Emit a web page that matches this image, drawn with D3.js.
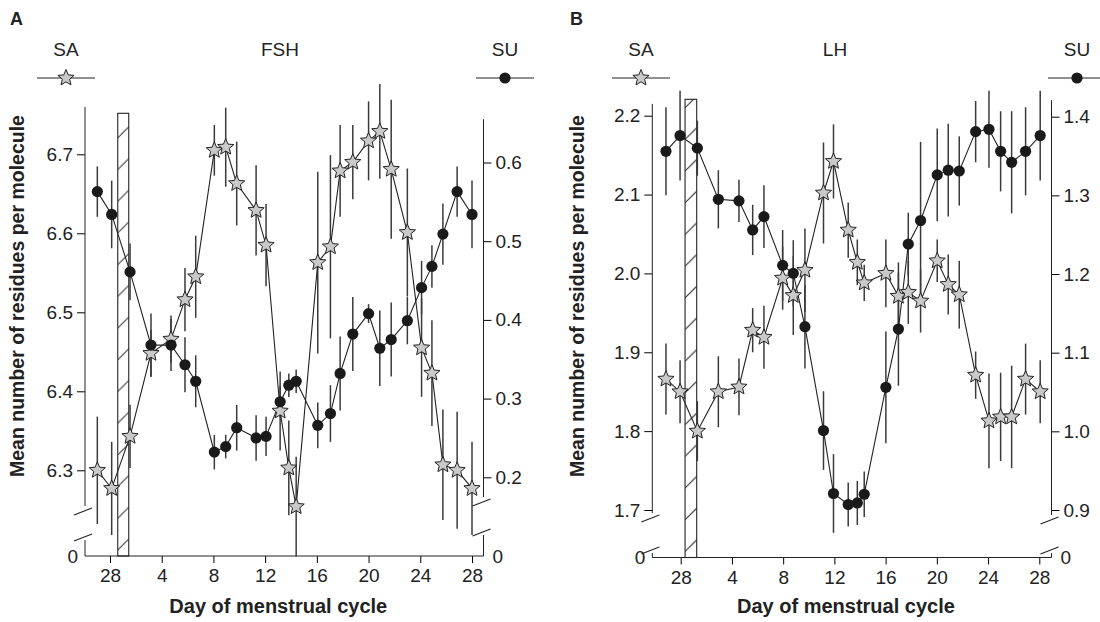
<!DOCTYPE html>
<html>
<head>
<script src="https://d3js.org/d3.v7.min.js"></script>
<style>
  body { margin: 0; background: #fff; }
  svg text { font-family: "Liberation Sans", Arial, sans-serif; fill: #222; }
</style>
</head>
<body>
<div id="chart"></div>
<script>
// ---- Panel A : FSH ----
// day position (0 = day 28 of the previous cycle)
const daysA = [-0.98, 0.13, 1.55, 3.17, 4.72, 5.8, 6.63, 8.07, 8.95, 9.8, 11.3, 12.07, 13.16, 13.83,
  14.4, 16.07, 17.05, 17.8, 18.78, 20.0, 20.87, 21.75, 23.0, 24.1, 24.9, 25.75, 26.85, 28.0];
const fshSA = [6.300, 6.277, 6.343, 6.448, 6.466, 6.516, 6.545, 6.705, 6.709, 6.663, 6.629, 6.585, 6.375, 6.303,
  6.254, 6.563, 6.583, 6.679, 6.690, 6.717, 6.729, 6.681, 6.601, 6.455, 6.423, 6.307, 6.300, 6.277];
const fshSAerr = [0.068, 0.059, 0.040, 0.030, 0.030, 0.040, 0.052, 0.032, 0.050, 0.053, 0.057, 0.052, 0.050, 0.060,
  0.063, 0.115, 0.116, 0.058, 0.047, 0.050, 0.060, 0.088, 0.081, 0.062, 0.067, 0.070, 0.074, 0.059];
const fshSU = [0.563, 0.534, 0.461, 0.368, 0.368, 0.343, 0.322, 0.232, 0.239, 0.263, 0.250, 0.252, 0.296, 0.317,
  0.322, 0.266, 0.281, 0.332, 0.382, 0.408, 0.364, 0.375, 0.399, 0.441, 0.468, 0.509, 0.563, 0.534];
const fshSUerr = [0.032, 0.043, 0.036, 0.040, 0.033, 0.035, 0.033, 0.022, 0.015, 0.029, 0.029, 0.025, 0.020, 0.015,
  0.015, 0.029, 0.036, 0.047, 0.047, 0.012, 0.048, 0.047, 0.030, 0.034, 0.027, 0.039, 0.032, 0.043];

// ---- Panel B : LH ----
const daysB = [-1.15, -0.05, 1.3, 2.94, 4.55, 5.62, 6.5, 7.96, 8.79, 9.7, 11.15, 11.93, 13.08, 13.79,
  14.33, 16.02, 17.0, 17.77, 18.73, 20.03, 20.89, 21.75, 23.03, 24.07, 24.98, 25.84, 26.93, 28.07];
const lhSA = [1.866, 1.850, 1.800, 1.850, 1.856, 1.928, 1.919, 1.994, 1.972, 2.004, 2.102, 2.142, 2.055, 2.014,
  1.988, 2.000, 1.971, 1.976, 1.965, 2.016, 1.986, 1.973, 1.871, 1.813, 1.818, 1.818, 1.866, 1.850];
const lhSAerr = [0.045, 0.040, 0.038, 0.045, 0.036, 0.028, 0.040, 0.040, 0.050, 0.053, 0.064, 0.047, 0.035, 0.029,
  0.023, 0.043, 0.043, 0.040, 0.040, 0.027, 0.038, 0.043, 0.030, 0.060, 0.056, 0.065, 0.045, 0.040];
const lhSU = [1.356, 1.376, 1.360, 1.295, 1.293, 1.256, 1.273, 1.211, 1.201, 1.133, 1.001, 0.921, 0.907, 0.909,
  0.920, 1.056, 1.130, 1.238, 1.268, 1.326, 1.332, 1.331, 1.381, 1.384, 1.356, 1.342, 1.356, 1.376];
const lhSUerr = [0.056, 0.057, 0.035, 0.037, 0.027, 0.032, 0.040, 0.045, 0.042, 0.053, 0.050, 0.050, 0.028, 0.028,
  0.029, 0.071, 0.072, 0.040, 0.100, 0.059, 0.059, 0.044, 0.039, 0.049, 0.051, 0.065, 0.056, 0.057];

const dayTicks = [0, 4, 8, 12, 16, 20, 24, 28];

const svg = d3.select("#chart").append("svg").attr("width", 1100).attr("height", 622);

// 5 point star, chunky inner radius
function starPath(R) {
  const r = R * 0.45;
  const pts = d3.range(10).map(i => {
    const a = -Math.PI / 2 + i * Math.PI / 5;
    const rr = i % 2 ? r : R;
    return [rr * Math.cos(a), rr * Math.sin(a)];
  });
  return "M" + pts.join("L") + "Z";
}

function drawPanel(p) {
  const g = svg.append("g");
  const x = d3.scaleLinear().domain([0, 28]).range(p.xRange);
  const yL = d3.scaleLinear().domain(p.yLDom).range(p.yLRange);
  const yR = d3.scaleLinear().domain(p.yRDom).range(p.yRRange);
  const xl = p.axisLeftX, xr = p.axisRightX, base = p.base;

  // hatched bar (menstruation)
  const bw = x(p.bar[1]) - x(p.bar[0]);
  const pat = svg.append("defs").append("pattern")
    .attr("id", "hatch" + p.id).attr("patternUnits", "userSpaceOnUse")
    .attr("x", x(p.bar[0])).attr("y", base).attr("width", bw).attr("height", 31.7);
  pat.append("path").attr("d", `M0,${31.7 - 6} L${bw},${31.7 - 6 - bw}`)
    .attr("stroke", "#222").attr("stroke-width", 1);
  g.append("rect")
    .attr("x", x(p.bar[0])).attr("y", p.barTop)
    .attr("width", bw).attr("height", base - p.barTop)
    .attr("fill", `url(#hatch${p.id})`).attr("stroke", "#222").attr("stroke-width", 1.1);

  // x axis
  const xa = g.append("g").attr("transform", `translate(0,${base})`);
  xa.call(d3.axisBottom(x).tickValues(d3.range(-1, 29)).tickSize(4).tickFormat(""))
  xa.call(d3.axisBottom(x).tickValues(dayTicks).tickSize(7).tickPadding(6)
    .tickFormat(d => d === 0 ? "28" : d));
  xa.selectAll(".domain").remove();
  xa.selectAll("text").attr("font-size", 19);
  g.append("line").attr("x1", xl).attr("x2", xr).attr("y1", base).attr("y2", base)
    .attr("stroke", "#222");

  // left axis (SA)
  const la = g.append("g").attr("transform", `translate(${xl},0)`);
  la.call(d3.axisLeft(yL).tickValues(p.yLMinor).tickSize(4).tickFormat(""));
  la.call(d3.axisLeft(yL).tickValues(p.yLMajor).tickSize(8).tickPadding(4).tickFormat(d3.format(".1f")));
  la.selectAll(".domain").remove();
  la.selectAll("text").attr("font-size", 19);
  la.append("line").attr("y1", yL(p.yLTop)).attr("y2", p.lBreak[0] - 5).attr("stroke", "#222");
  la.append("line").attr("y1", p.lBreak[1] + 3).attr("y2", base).attr("stroke", "#222");
  la.append("text").attr("x", -7).attr("y", base).attr("dy", "0.35em")
    .attr("text-anchor", "end").attr("font-size", 19).text("0");

  // right axis (SU)
  const ra = g.append("g").attr("transform", `translate(${xr},0)`);
  ra.call(d3.axisRight(yR).tickValues(p.yRMinor).tickSize(4).tickFormat(""));
  ra.call(d3.axisRight(yR).tickValues(p.yRMajor).tickSize(8).tickPadding(4).tickFormat(d3.format(".1f")));
  ra.selectAll(".domain").remove();
  ra.selectAll("text").attr("font-size", 19);
  ra.append("line").attr("y1", yR(p.yRTop)).attr("y2", p.rBreak[0] - 5).attr("stroke", "#222");
  ra.append("line").attr("y1", p.rBreak[1] + 3).attr("y2", base).attr("stroke", "#222");
  ra.append("text").attr("x", 9).attr("y", base).attr("dy", "0.35em")
    .attr("font-size", 19).text("0");

  // break marks
  const brk = [[xl, p.lBreak[0]], [xl, p.lBreak[1]], [xr, p.rBreak[0]], [xr, p.rBreak[1]]];
  g.selectAll(".brk").data(brk).join("line").attr("class", "brk")
    .attr("x1", d => d[0] - 11).attr("y1", d => d[1] + 4)
    .attr("x2", d => d[0] + 7).attr("y2", d => d[1] - 3)
    .attr("stroke", "#222").attr("stroke-width", 1.1);

  // error bars
  const saRows = p.days.map((d, i) => ({ x: d, v: p.sa[i], e: p.saErr[i] }));
  const suRows = p.days.map((d, i) => ({ x: d, v: p.su[i], e: p.suErr[i] }));
  g.selectAll(".eSA").data(saRows).join("line").attr("class", "eSA")
    .attr("x1", d => x(d.x)).attr("x2", d => x(d.x))
    .attr("y1", d => yL(d.v - d.e)).attr("y2", d => yL(d.v + d.e))
    .attr("stroke", "#3a3a3a").attr("stroke-width", 1.5);
  g.selectAll(".eSU").data(suRows).join("line").attr("class", "eSU")
    .attr("x1", d => x(d.x)).attr("x2", d => x(d.x))
    .attr("y1", d => yR(d.v - d.e)).attr("y2", d => yR(d.v + d.e))
    .attr("stroke", "#3a3a3a").attr("stroke-width", 1.5);

  // connecting lines
  g.append("path").datum(saRows)
    .attr("d", d3.line().x(d => x(d.x)).y(d => yL(d.v)))
    .attr("fill", "none").attr("stroke", "#222").attr("stroke-width", 1.1);
  g.append("path").datum(suRows)
    .attr("d", d3.line().x(d => x(d.x)).y(d => yR(d.v)))
    .attr("fill", "none").attr("stroke", "#222").attr("stroke-width", 1.1);

  // markers
  g.selectAll(".star").data(saRows).join("path").attr("class", "star")
    .attr("transform", d => `translate(${x(d.x)},${yL(d.v)})`)
    .attr("d", starPath(8.5))
    .attr("fill", "#c9c9c9").attr("stroke", "#222").attr("stroke-width", 1);
  g.selectAll(".dot").data(suRows).join("circle").attr("class", "dot")
    .attr("cx", d => x(d.x)).attr("cy", d => yR(d.v)).attr("r", 5.6)
    .attr("fill", "#1a1a1a");

  // legends and labels
  g.append("text").attr("x", p.letterX).attr("y", 25).attr("font-size", 18)
    .attr("font-weight", "bold").text(p.id);
  g.append("text").attr("x", p.saX).attr("y", 56).attr("text-anchor", "middle")
    .attr("font-size", 19).text("SA");
  g.append("text").attr("x", p.hX).attr("y", 56).attr("text-anchor", "middle")
    .attr("font-size", 19).text(p.hormone);
  g.append("text").attr("x", p.suX).attr("y", 56).attr("text-anchor", "middle")
    .attr("font-size", 19).text("SU");
  g.append("line").attr("x1", p.saX - 29).attr("x2", p.saX + 29).attr("y1", 78).attr("y2", 78)
    .attr("stroke", "#222");
  g.append("path").attr("transform", `translate(${p.saX},78)`).attr("d", starPath(8.5))
    .attr("fill", "#c9c9c9").attr("stroke", "#222");
  g.append("line").attr("x1", p.suX - 29).attr("x2", p.suX + 29).attr("y1", 78).attr("y2", 78)
    .attr("stroke", "#222");
  g.append("circle").attr("cx", p.suX).attr("cy", 78).attr("r", 5.6).attr("fill", "#1a1a1a");

  g.append("text").attr("transform", `translate(${p.titleX},${p.titleY}) rotate(-90)`)
    .attr("text-anchor", "middle").attr("font-size", 19.5).attr("font-weight", "bold")
    .text("Mean number of residues per molecule");
  g.append("text").attr("x", (xl + xr) / 2 - 6).attr("y", 613).attr("text-anchor", "middle")
    .attr("font-size", 20).attr("font-weight", "bold").text("Day of menstrual cycle");
}

drawPanel({
  id: "A", hormone: "FSH",
  days: daysA, sa: fshSA, saErr: fshSAerr, su: fshSU, suErr: fshSUerr,
  xRange: [110, 472], axisLeftX: 85, axisRightX: 483.5, base: 556,
  yLDom: [6.3, 6.7], yLRange: [470.3, 154.3], yLTop: 6.76,
  yLMajor: [6.3, 6.4, 6.5, 6.6, 6.7], yLMinor: d3.range(6.26, 6.761, 0.02),
  yRDom: [0.2, 0.6], yRRange: [477.3, 162.5], yRTop: 0.655,
  yRMajor: [0.2, 0.3, 0.4, 0.5, 0.6], yRMinor: d3.range(0.18, 0.655, 0.02),
  lBreak: [511, 537], rBreak: [502, 532],
  bar: [0.6, 1.45], barTop: 113.3,
  letterX: 10, saX: 66, hX: 280, suX: 505, titleX: 24, titleY: 296
});

drawPanel({
  id: "B", hormone: "LH",
  days: daysB, sa: lhSA, saErr: lhSAerr, su: lhSU, suErr: lhSUerr,
  xRange: [680.7, 1039.3], axisLeftX: 652.3, axisRightX: 1051.5, base: 557.5,
  yLDom: [1.7, 2.2], yLRange: [510, 115.7], yLTop: 2.215,
  yLMajor: [1.7, 1.8, 1.9, 2.0, 2.1, 2.2], yLMinor: d3.range(1.68, 2.215, 0.02),
  yRDom: [0.9, 1.4], yRRange: [510, 116.7], yRTop: 1.421,
  yRMajor: [0.9, 1.0, 1.1, 1.2, 1.3, 1.4], yRMinor: d3.range(0.88, 1.421, 0.02),
  lBreak: [518, 550], rBreak: [520, 550],
  bar: [0.34, 1.25], barTop: 99.3,
  letterX: 570, saX: 641, hX: 835, suX: 1077, titleX: 584, titleY: 296
});
</script>
</body>
</html>
